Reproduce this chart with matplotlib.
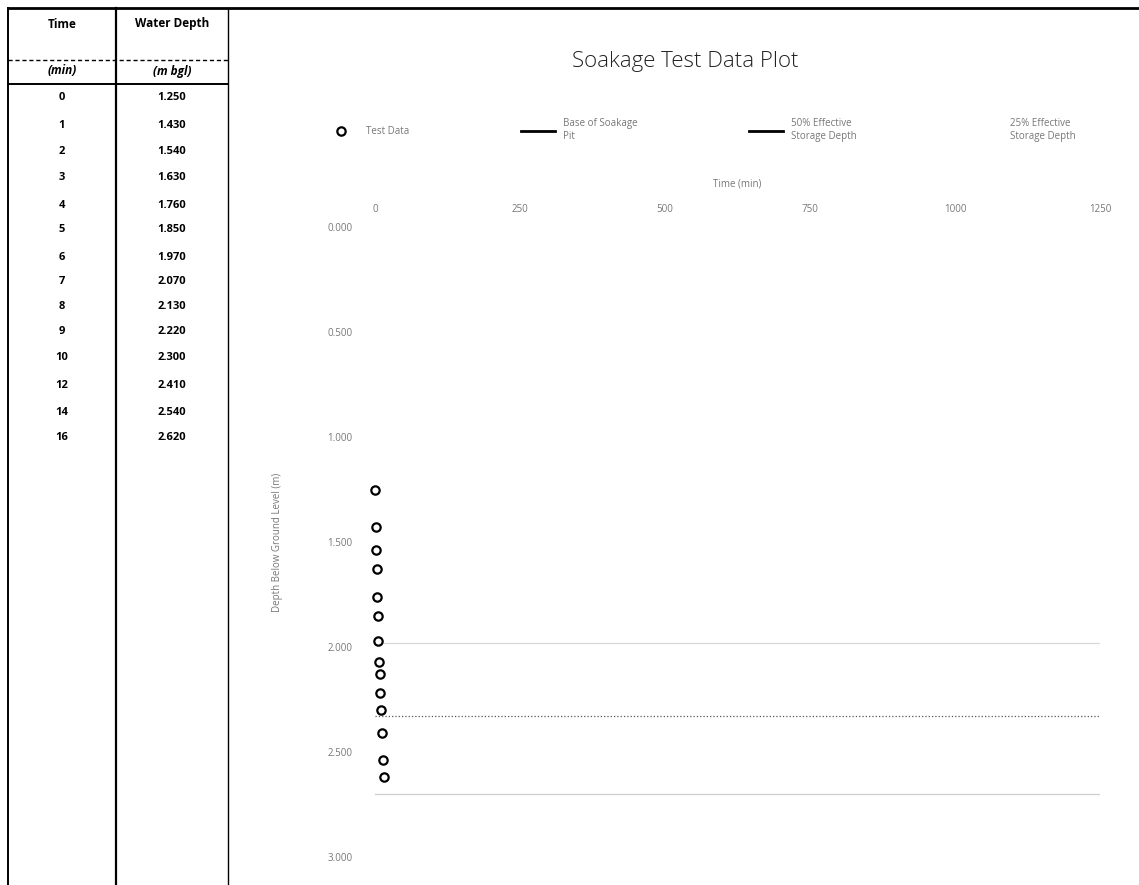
import matplotlib
matplotlib.use("Agg")
import matplotlib.pyplot as plt
from matplotlib.lines import Line2D

plt.rcParams['font.family'] = ['Open Sans', 'DejaVu Sans']

# soakage test readings
time_min = [0, 1, 2, 3, 4, 5, 6, 7, 8, 9, 10, 12, 14, 16]
depth_m = [1.250, 1.430, 1.540, 1.630, 1.760, 1.850, 1.970,
           2.070, 2.130, 2.220, 2.300, 2.410, 2.540, 2.620]

# reference levels (m bgl)
level_names = ["Base of Soakage\nPit", "50% Effective\nStorage Depth", "25% Effective\nStorage Depth"]
level_depths = [2.70, 1.98, 2.33]
level_styles = ["-", "-", ":"]
level_colors = ["#cfcfcf", "#d8d8d8", "#555555"]

x_ticks = [0, 250, 500, 750, 1000, 1250]
y_ticks = [0.0, 0.5, 1.0, 1.5, 2.0, 2.5, 3.0]

W, H = 1139, 885
fig = plt.figure(figsize=(W / 100, H / 100), dpi=100)


def fx(px):
    return px / W


def fy(py):
    return 1 - py / H


def hline(y, x0, x1, lw=1.0, ls="-"):
    fig.add_artist(Line2D([fx(x0), fx(x1)], [fy(y), fy(y)], color="black", lw=lw, ls=ls))


def vline(x, y0, y1, lw=1.0):
    fig.add_artist(Line2D([fx(x), fx(x)], [fy(y0), fy(y1)], color="black", lw=lw))


# table on the left
hline(8, 8, W, lw=2.0)
vline(8, 8, H, lw=1.4)
vline(116, 8, H, lw=1.6)
vline(228, 8, H, lw=1.0)
hline(60, 8, 228, lw=1.0, ls=(0, (3, 2)))
hline(84, 8, 228, lw=1.4)

fig.text(fx(62), fy(24), "Time", ha="center", va="center", fontsize=8.5, weight="bold")
fig.text(fx(172), fy(24), "Water Depth", ha="center", va="center", fontsize=8.5, weight="bold")
fig.text(fx(62), fy(71), "(min)", ha="center", va="center", fontsize=8.5, weight="bold", style="italic")
fig.text(fx(172), fy(71), "(m bgl)", ha="center", va="center", fontsize=8.5, weight="bold", style="italic")

row_y = [98, 125, 152, 178, 205, 230, 257, 282, 307, 332, 358, 385, 412, 438]
for t, d, ry in zip(time_min, depth_m, row_y):
    fig.text(fx(62), fy(ry), str(t), ha="center", va="center", fontsize=8, weight="bold")
    fig.text(fx(172), fy(ry), f"{d:.3f}", ha="center", va="center", fontsize=8, weight="bold")

# chart
ax = fig.add_axes([fx(375), fy(857), fx(1100) - fx(375), fy(227) - fy(857)])

for name, lvl, ls, c in zip(level_names, level_depths, level_styles, level_colors):
    ax.plot([x_ticks[0], x_ticks[-1]], [lvl, lvl], ls=ls, color=c, lw=0.9, label=name)

ax.plot(time_min, depth_m, ls="none", marker="o", markersize=6,
        markerfacecolor="white", markeredgecolor="black", markeredgewidth=1.6,
        label="Test Data", zorder=3, clip_on=False)

ax.set_xlim(x_ticks[0], x_ticks[-1])
ax.set_ylim(y_ticks[-1], y_ticks[0])
ax.set_xticks(x_ticks)
ax.set_yticks(y_ticks)
ax.set_yticklabels([f"{v:.3f}" for v in y_ticks])
ax.xaxis.tick_top()
ax.xaxis.set_label_position("top")
ax.tick_params(length=0, labelsize=7, labelcolor="#777777")
ax.tick_params(axis="y", pad=16)
ax.tick_params(axis="x", pad=9)
for s in ax.spines.values():
    s.set_visible(False)
ax.set_xlabel("Time (min)", fontsize=7, color="#777777", labelpad=12)
ax.set_ylabel("Depth Below Ground Level (m)", fontsize=7, color="#777777", labelpad=32)

fig.text(fx(685), fy(62), "Soakage Test Data Plot", ha="center", va="center",
         fontsize=16, weight="light", color="#222222")

handles, labels = ax.get_legend_handles_labels()
order = [3, 0, 1, 2]
leg_handles = [handles[i] for i in order]
leg_handles[1] = Line2D([], [], color="black", lw=2)
leg_handles[2] = Line2D([], [], color="black", lw=2)
leg_handles[3] = Line2D([], [], color="white", lw=2)
fig.legend(leg_handles, [labels[i] for i in order], ncol=4, frameon=False,
           loc="center", bbox_to_anchor=(fx(700), fy(130)), fontsize=7,
           labelcolor="#777777", columnspacing=11.5, handlelength=3.5)

fig.savefig("out.png", dpi=100)
